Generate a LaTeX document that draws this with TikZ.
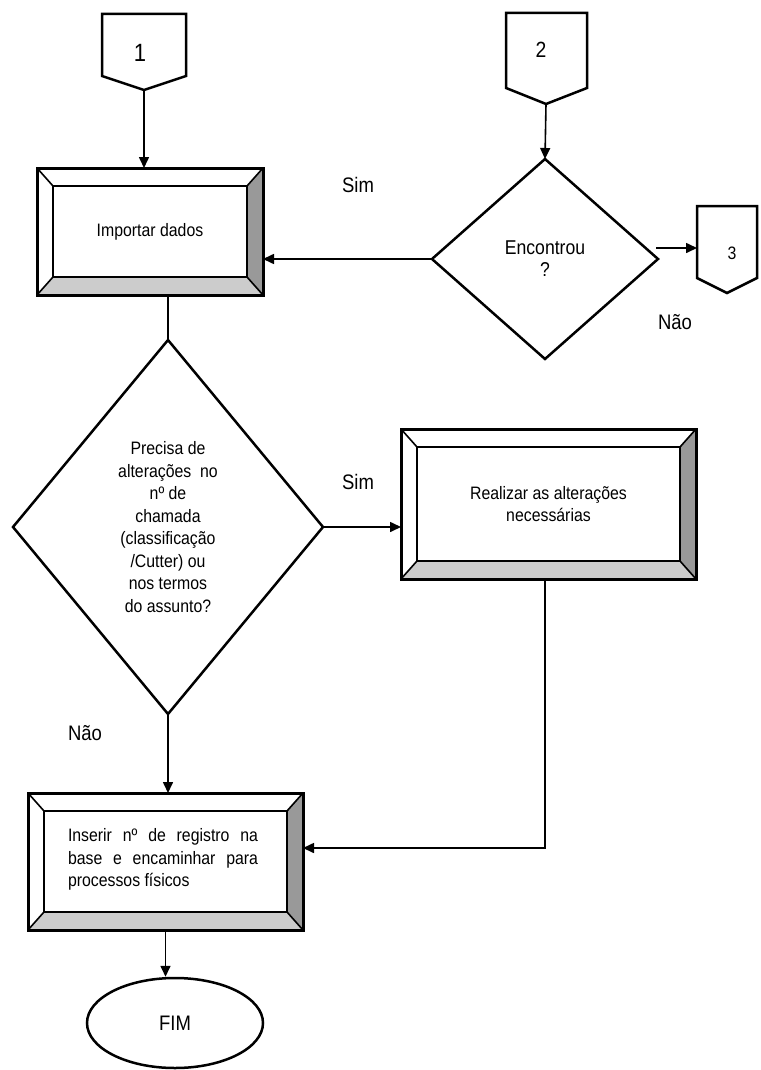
\documentclass[tikz,border=0pt]{standalone}
\usepackage{fontspec}
\setmainfont[FakeStretch=0.88]{Liberation Sans}
\usetikzlibrary{shapes.geometric,arrows.meta,calc}
\definecolor{bevdark}{HTML}{999999}
\definecolor{bevlight}{HTML}{CCCCCC}
\tikzset{
  x=1pt, y=-1pt,
  bevbox/.style={rectangle, inner sep=0pt, outer sep=0pt, align=center},
  decbox/.style={diamond, draw, line width=2.5pt, inner sep=0pt, outer sep=0pt, align=center},
  conn/.style={draw, line width=2.5pt, line join=miter},
  arr/.style={line width=1.6pt, -{Triangle[length=11pt,width=10pt]}},
  plain/.style={line width=1.6pt},
  lbl/.style={font=\fontsize{21}{25}\selectfont, inner sep=0pt},
  boxtxt/.style={font=\fontsize{18}{22.5}\selectfont},
}
\newcommand\bevelit[1]{%
  \fill[bevdark] (#1.north east) -- (#1.south east) -- ($(#1.south east)+(-16,-18)$) -- ($(#1.north east)+(-16,18)$) -- cycle;
  \fill[bevlight] (#1.south west) -- (#1.south east) -- ($(#1.south east)+(-16,-18)$) -- ($(#1.south west)+(16,-18)$) -- cycle;
  \draw[line width=1.6pt] (#1.north west) -- ($(#1.north west)+(16,18)$)
     (#1.north east) -- ($(#1.north east)+(-16,18)$)
     (#1.south west) -- ($(#1.south west)+(16,-18)$)
     (#1.south east) -- ($(#1.south east)+(-16,-18)$);
  \draw[line width=2.6pt] ($(#1.north west)+(16,18)$) rectangle ($(#1.south east)+(-16,-18)$);
  \draw[line width=3pt] (#1.north west) rectangle (#1.south east);
}
\begin{document}
\begin{tikzpicture}
\useasboundingbox[fill=white] (0,0) rectangle (760,1070);

% off-page connectors
\draw[conn] (102,14) -- (186,14) -- (186,76) -- (144,90) -- (102,76) -- cycle;
\node[inner sep=0pt, font=\fontsize{25}{28}\selectfont] (c1) at (140,53) {1};
\coordinate (c1tip) at (144,90);

\draw[conn] (506,13) -- (587,13) -- (587,88) -- (546,104) -- (506,88) -- cycle;
\node[inner sep=0pt, font=\fontsize{22}{26}\selectfont] (c2) at (541,50) {2};
\coordinate (c2tip) at (546,104);

\draw[conn] (697,206) -- (757,206) -- (757,278) -- (727,293) -- (697,278) -- cycle;
\node[inner sep=0pt, font=\fontsize{18}{22}\selectfont] (c3) at (732,253) {3};
\coordinate (c3w) at (697,248);
\coordinate (encr) at (656,248);

% process boxes
\node[bevbox, boxtxt, minimum width=226pt, minimum height=127pt] (imp) at (150,231.5) {Importar dados};
\bevelit{imp}

\node[bevbox, boxtxt, minimum width=295pt, minimum height=150pt] (real) at (548.5,504) {Realizar as alterações\\necessárias};
\bevelit{real}

\node[bevbox, minimum width=275pt, minimum height=137pt] (ins) at (165.5,861.5) {};
\bevelit{ins}
\node[boxtxt, text width=190pt, align=justify, inner sep=0pt] (instxt) at (163,859.5)
  {Inserir nº de registro na base e encaminhar para processos físicos};

% decisions
\node[decbox, font=\fontsize{20}{20}\selectfont, minimum width=226pt, minimum height=200pt] (enc) at (545,259) {Encontrou\\[2pt]?};

\node[decbox, boxtxt, minimum width=310pt, minimum height=374pt] (dec) at (168,527)
  {Precisa de\\alterações\ \ no\\nº de\\chamada\\(classificação\\/Cutter) ou\\nos termos\\do assunto?};

% terminator
\node[ellipse, draw, line width=2.5pt, minimum width=176pt, minimum height=90pt, font=\fontsize{21}{25}\selectfont] (fim) at (175,1023) {FIM};

% connectors
\draw[arr] (c1tip) -- (c1tip |- imp.north);
\draw[arr] (c2tip) -- (enc.north);
\draw[arr] (enc.west) -- (enc.west -| imp.east);
\draw[arr] (encr) -- (c3w);
\draw[plain] (dec.north |- imp.south) -- (dec.north);
\draw[arr] (dec.east) -- (dec.east -| real.west);
\coordinate (rj) at (545,848);
\draw[arr] (real.south -| rj) -- (rj) -- (rj -| ins.east);
\draw[arr] (dec.south) -- (dec.south |- ins.north);
\draw[arr] (ins.south) -- (ins.south |- fim.north);

% labels
\node[lbl] (l1) at (358,185) {Sim};
\node[lbl] (l2) at (675,322) {Não};
\node[lbl] (l3) at (358,482) {Sim};
\node[lbl] (l4) at (85,733) {Não};
\end{tikzpicture}
\end{document}
